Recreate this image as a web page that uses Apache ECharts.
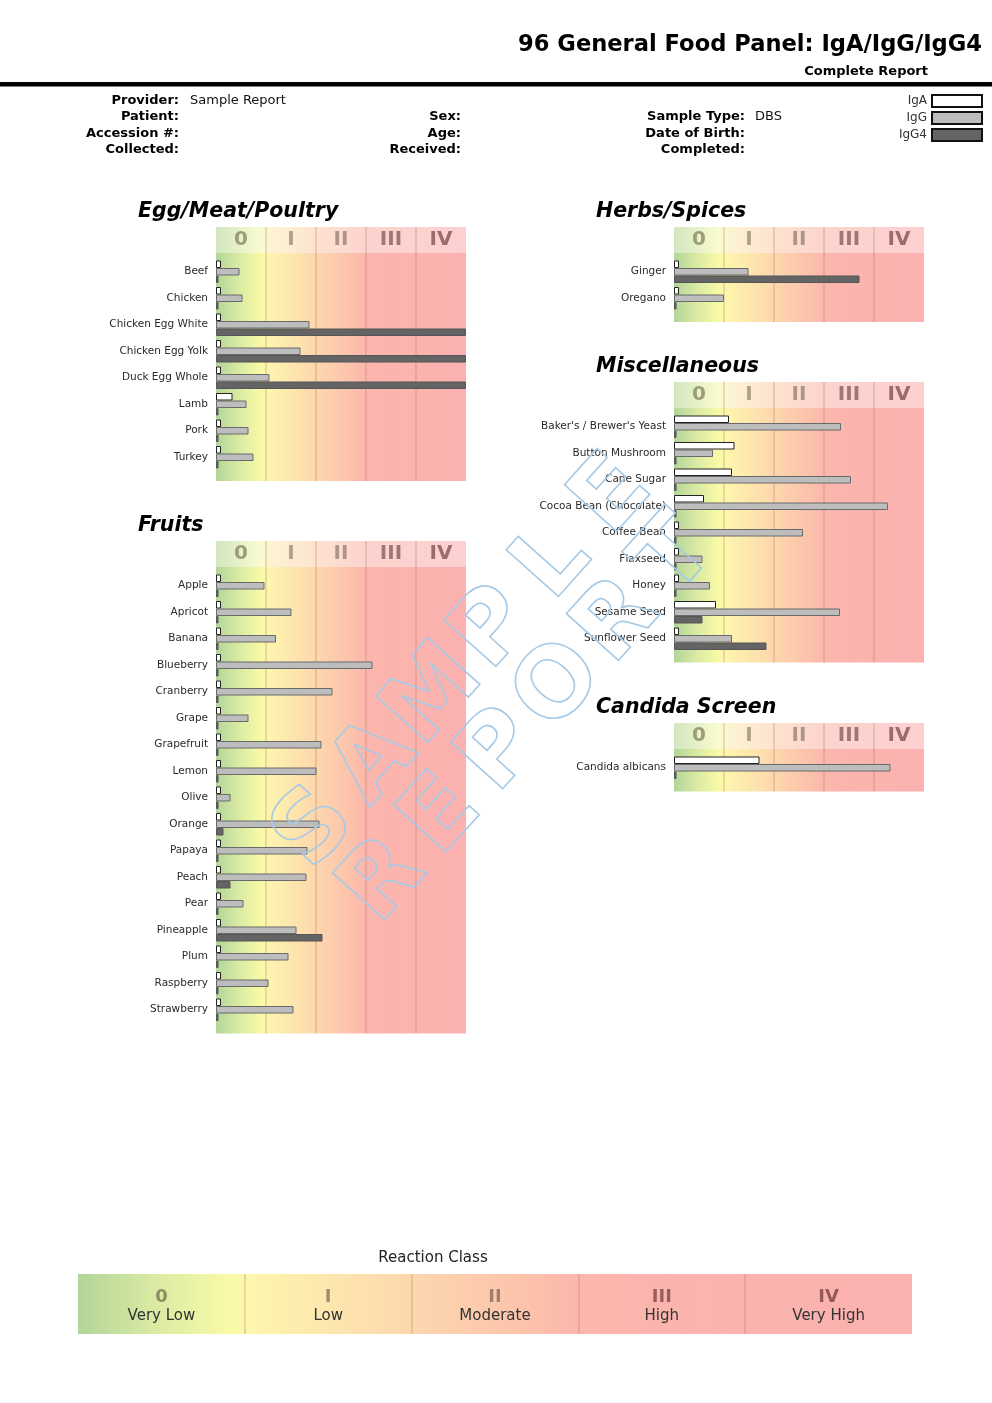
<!DOCTYPE html>
<html><head><meta charset="utf-8">
<script src="https://cdn.jsdelivr.net/npm/echarts@6/dist/echarts.min.js"></script>
<style>html,body{margin:0;padding:0;background:#fff}#c{width:992px;height:1403px}</style>
</head><body><div id="c"></div>
<script>
// ---------- data ----------
const classLabels = ['0', 'I', 'II', 'III', 'IV'];
const classNames = ['Very Low', 'Low', 'Moderate', 'High', 'Very High'];
const seriesNames = ['IgA', 'IgG', 'IgG4'];

const eggCats = ['Beef', 'Chicken', 'Chicken Egg White', 'Chicken Egg Yolk', 'Duck Egg Whole', 'Lamb', 'Pork', 'Turkey'];
const eggIgA  = [0.1, 0.1, 0.1, 0.1, 0.1, 0.33, 0.1, 0.1];
const eggIgG  = [0.47, 0.53, 1.87, 1.69, 1.07, 0.61, 0.65, 0.75];
const eggIgG4 = [0.05, 0.05, 5, 5, 5, 0.05, 0.05, 0.05];

const fruitCats = ['Apple', 'Apricot', 'Banana', 'Blueberry', 'Cranberry', 'Grape', 'Grapefruit', 'Lemon', 'Olive', 'Orange', 'Papaya', 'Peach', 'Pear', 'Pineapple', 'Plum', 'Raspberry', 'Strawberry'];
const fruitIgA  = [0.1, 0.1, 0.1, 0.1, 0.1, 0.1, 0.1, 0.1, 0.1, 0.1, 0.1, 0.1, 0.1, 0.1, 0.1, 0.1, 0.1];
const fruitIgG  = [0.97, 1.51, 1.2, 3.13, 2.33, 0.65, 2.11, 2.01, 0.29, 2.07, 1.83, 1.81, 0.55, 1.61, 1.45, 1.05, 1.55];
const fruitIgG4 = [0.05, 0.05, 0.05, 0.05, 0.05, 0.05, 0.05, 0.05, 0.05, 0.15, 0.05, 0.29, 0.05, 2.13, 0.05, 0.05, 0.05];

const herbCats = ['Ginger', 'Oregano'];
const herbIgA  = [0.1, 0.1];
const herbIgG  = [1.49, 1.0];
const herbIgG4 = [3.71, 0.05];

const miscCats = ["Baker's / Brewer's Yeast", 'Button Mushroom', 'Cane Sugar', 'Cocoa Bean (Chocolate)', 'Coffee Bean', 'Flaxseed', 'Honey', 'Sesame Seed', 'Sunflower Seed'];
const miscIgA  = [1.1, 1.21, 1.16, 0.6, 0.1, 0.1, 0.1, 0.84, 0.1];
const miscIgG  = [3.34, 0.78, 3.54, 4.28, 2.58, 0.57, 0.72, 3.32, 1.16];
const miscIgG4 = [0.05, 0.05, 0.05, 0.05, 0.05, 0.05, 0.05, 0.57, 1.85];

const candidaCats = ['Candida albicans'];
const candidaIgA  = [1.71];
const candidaIgG  = [4.33];
const candidaIgG4 = [0.05];

// ---------- layout / style ----------
const FONT = 'DejaVu Sans';
const panels = [
  {title: 'Egg/Meat/Poultry', left: 216, top: 227, cats: eggCats, vals: [eggIgA, eggIgG, eggIgG4]},
  {title: 'Fruits', left: 216, top: 541, cats: fruitCats, vals: [fruitIgA, fruitIgG, fruitIgG4]},
  {title: 'Herbs/Spices', left: 674, top: 227, cats: herbCats, vals: [herbIgA, herbIgG, herbIgG4]},
  {title: 'Miscellaneous', left: 674, top: 382, cats: miscCats, vals: [miscIgA, miscIgG, miscIgG4]},
  {title: 'Candida Screen', left: 674, top: 723, cats: candidaCats, vals: [candidaIgA, candidaIgG, candidaIgG4]}
];
const W = 250, HEADER = 26, ROW = 26.5, PADT = 5.5, PADB = 10.5;

function grad(stops) {
  return {type: 'linear', x: 0, y: 0, x2: 1, y2: 0, colorStops: stops.map(s => ({offset: s[0], color: s[1]}))};
}
const plotGrad = grad([[0, '#b2d599'], [0.09, '#d9eaa3'], [0.18, '#f9faa6'], [0.21, '#fdf5ad'], [0.4, '#fdd7ae'], [0.55, '#fcc0ab'], [0.6, '#fbb6ad'], [1, '#fbb1b0']]);
const hdrGrad = grad([[0, '#d2e6bf'], [0.18, '#fafbd0'], [0.22, '#fdf3d3'], [0.4, '#fde3d0'], [0.6, '#fcd3cf'], [1, '#fcd0d0']]);
const splitCol = 'rgba(170,110,80,0.22)';
const hdrColors = ['#9c9e78', '#b0a284', '#ad9486', '#a27474', '#9c6c6c'];
const legColors = ['#8e8e66', '#a08c6c', '#a07e6e', '#985e5e', '#935a5a'];
const barStyles = [
  {color: '#ffffff', borderColor: '#222', borderWidth: 1},
  {color: '#bdbdbd', borderColor: '#6a6a6a', borderWidth: 1},
  {color: '#646464', borderColor: '#555', borderWidth: 1}
];

const grids = [], xAxes = [], yAxes = [], series = [], graphics = [];

function splitAxis(gi) {
  return {gridIndex: gi, type: 'value', min: 0, max: 5, interval: 1, position: 'bottom',
    axisLine: {show: false}, axisTick: {show: false}, axisLabel: {show: false},
    splitLine: {show: true, showMinLine: false, showMaxLine: false, lineStyle: {color: splitCol, width: 2}}};
}
function hiddenY(gi) { return {gridIndex: gi, type: 'value', show: false}; }
function richFor(colors, size, extra) {
  const r = {};
  colors.forEach((c, i) => { r['c' + i] = {color: c, fontSize: size, fontWeight: 'bold', fontFamily: FONT}; });
  return Object.assign(r, extra || {});
}

panels.forEach(p => {
  const n = p.cats.length;
  // header row
  let gi = grids.length;
  grids.push({left: p.left, top: p.top, width: W, height: HEADER, show: true, borderWidth: 0, backgroundColor: hdrGrad, outerBoundsMode: 'none'});
  xAxes.push(splitAxis(gi));
  xAxes.push({gridIndex: gi, type: 'category', data: classLabels, position: 'bottom',
    axisLine: {show: false}, axisTick: {show: false}, splitLine: {show: false},
    axisLabel: {inside: true, margin: 13, verticalAlign: 'middle', formatter: (v, i) => '{c' + i + '|' + v + '}', rich: richFor(hdrColors, 20)}});
  yAxes.push(hiddenY(gi));
  // plot background
  gi = grids.length;
  grids.push({left: p.left, top: p.top + HEADER, width: W, height: n * ROW + PADT + PADB, show: true, borderWidth: 0, backgroundColor: plotGrad, outerBoundsMode: 'none'});
  xAxes.push(splitAxis(gi));
  yAxes.push(hiddenY(gi));
  // bars
  gi = grids.length;
  grids.push({left: p.left, top: p.top + HEADER + PADT, width: W, height: n * ROW, outerBoundsMode: 'none'});
  const xi = xAxes.length, yi = yAxes.length;
  xAxes.push({gridIndex: gi, type: 'value', min: 0, max: 5, show: false});
  yAxes.push({gridIndex: gi, type: 'category', data: p.cats, inverse: true,
    axisLine: {show: false}, axisTick: {show: false}, splitLine: {show: false},
    axisLabel: {margin: 8, fontSize: 10.5, color: '#2a2a2a', fontFamily: FONT, verticalAlign: 'middle', padding: [0, 0, 8, 0]}});
  p.vals.forEach((arr, k) => {
    series.push({type: 'bar', name: seriesNames[k], xAxisIndex: xi, yAxisIndex: yi, data: arr,
      barWidth: 7.5, barGap: '0%', itemStyle: barStyles[k], silent: true, animation: false});
  });
  // panel title
  graphics.push({type: 'text', x: p.left - 78, y: p.top - 15, style: {text: p.title, fill: '#000', font: 'italic bold 20.5px "' + FONT + '"', align: 'left', verticalAlign: 'middle'}});
});

// Reaction class legend bar
(function () {
  const gi = grids.length;
  grids.push({left: 78, top: 1274, width: 834, height: 60, show: true, borderWidth: 0, backgroundColor: plotGrad, outerBoundsMode: 'none'});
  xAxes.push(splitAxis(gi));
  xAxes.push({gridIndex: gi, type: 'category', data: classLabels, position: 'bottom',
    axisLine: {show: false}, axisTick: {show: false}, splitLine: {show: false},
    axisLabel: {inside: true, margin: 27, verticalAlign: 'middle', lineHeight: 19,
      formatter: (v, i) => '{c' + i + '|' + v + '}\n{t|' + classNames[i] + '}',
      rich: richFor(legColors, 18, {t: {fontSize: 15, color: '#333', fontFamily: FONT, lineHeight: 19}})}});
  yAxes.push(hiddenY(gi));
  graphics.push({type: 'text', x: 433, y: 1258, style: {text: 'Reaction Class', fill: '#222', font: '15px "' + FONT + '"', align: 'center', verticalAlign: 'middle'}});
})();

// Header texts
graphics.push({type: 'text', x: 982, y: 45, style: {text: '96 General Food Panel: IgA/IgG/IgG4', fill: '#000', font: 'bold 22.6px "' + FONT + '"', align: 'right', verticalAlign: 'middle'}});
graphics.push({type: 'text', x: 928, y: 72, style: {text: 'Complete Report', fill: '#000', font: 'bold 13px "' + FONT + '"', align: 'right', verticalAlign: 'middle'}});
graphics.push({type: 'rect', shape: {x: 0, y: 82, width: 992, height: 4.5}, style: {fill: '#000'}});
const infoRows = [
  [179, 101, 'Provider:'], [179, 117, 'Patient:'], [179, 134, 'Accession #:'], [179, 150, 'Collected:'],
  [461, 117, 'Sex:'], [461, 134, 'Age:'], [461, 150, 'Received:'],
  [745, 117, 'Sample Type:'], [745, 134, 'Date of Birth:'], [745, 150, 'Completed:']
];
infoRows.forEach(r => graphics.push({type: 'text', x: r[0], y: r[1], style: {text: r[2], fill: '#000', font: 'bold 13px "' + FONT + '"', align: 'right', verticalAlign: 'middle'}}));
graphics.push({type: 'text', x: 190, y: 101, style: {text: 'Sample Report', fill: '#111', font: '13px "' + FONT + '"', align: 'left', verticalAlign: 'middle'}});
graphics.push({type: 'text', x: 755, y: 117, style: {text: 'DBS', fill: '#111', font: '13px "' + FONT + '"', align: 'left', verticalAlign: 'middle'}});

// Watermark
function wmWord(word, x0, y0, x1, y1) {
  const ang = Math.atan2(y0 - y1, x1 - x0);
  const n = word.length;
  for (let i = 0; i < n; i++) {
    const t = i / (n - 1);
    graphics.push({type: 'text', z: 100, x: x0 + (x1 - x0) * t, y: y0 + (y1 - y0) * t, rotation: ang, silent: true,
      style: {text: word[i], font: 'bold 96px "' + FONT + '"', fill: 'rgba(0,0,0,0)', stroke: '#a6cae6', lineWidth: 1.6, align: 'center', verticalAlign: 'middle'}});
  }
}
wmWord('SAMPLE', 316, 830, 614, 497);
wmWord('REPORT', 385, 882, 677, 558);

const chart = echarts.init(document.getElementById('c'), null, {renderer: 'canvas'});
chart.setOption({
  backgroundColor: '#fff',
  animation: false,
  legend: {data: seriesNames, orient: 'vertical', right: 9, top: 94, padding: 0, itemWidth: 50, itemHeight: 12, itemGap: 3,
    align: 'right', icon: 'rect', selectedMode: false,
    textStyle: {fontSize: 12, color: '#333', fontFamily: FONT},
    itemStyle: {borderColor: '#111', borderWidth: 2}},
  grid: grids,
  xAxis: xAxes,
  yAxis: yAxes,
  series: series,
  graphic: graphics
});
</script></body></html>
